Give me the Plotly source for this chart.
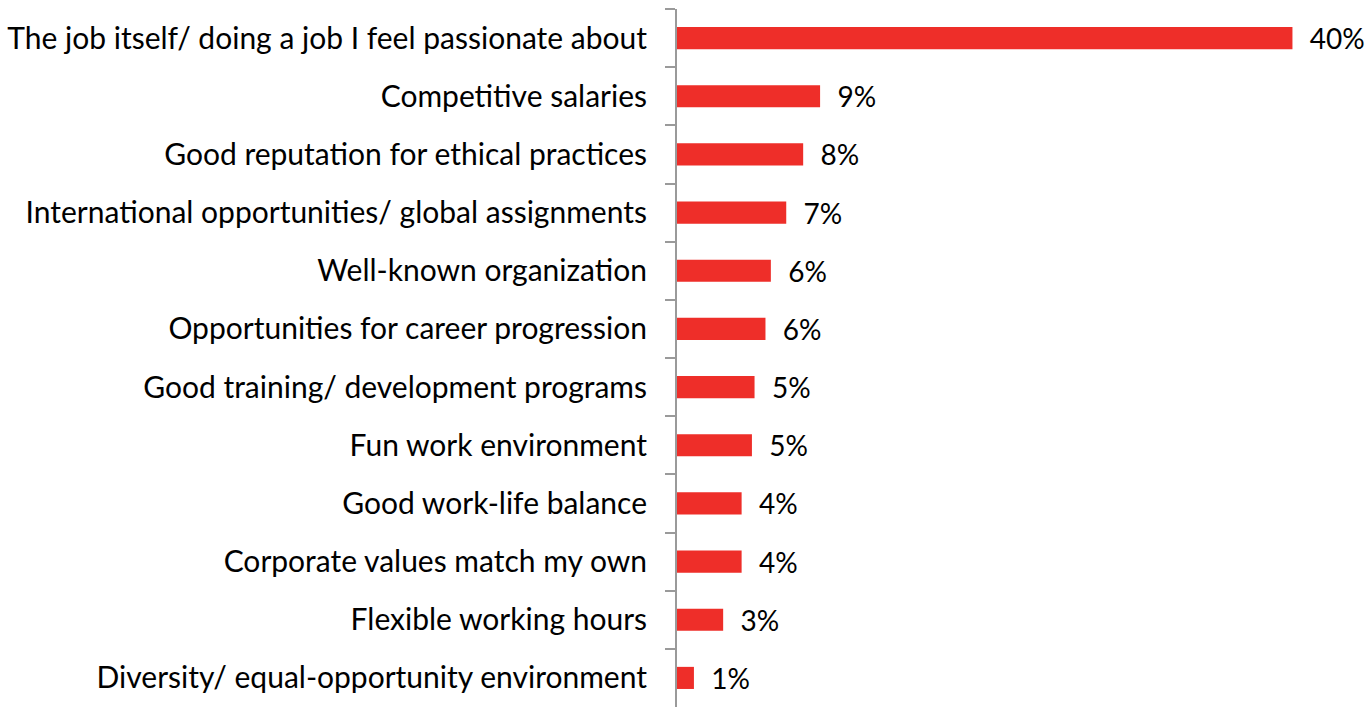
import plotly.graph_objects as go

# Reasons for choosing an employer (share of respondents, %)
reasons = [
    "The job itself/ doing a job I feel passionate about",
    "Competitive salaries",
    "Good reputation for ethical practices",
    "International opportunities/ global assignments",
    "Well-known organization",
    "Opportunities for career progression",
    "Good training/ development programs",
    "Fun work environment",
    "Good work-life balance",
    "Corporate values match my own",
    "Flexible working hours",
    "Diversity/ equal-opportunity environment",
]
shares = [40.0, 9.3, 8.2, 7.1, 6.1, 5.75, 5.04, 4.87, 4.2, 4.2, 3.0, 1.1]

BAR_COLOR = "#EE2E29"
FONT = "Lato, Carlito, 'Liberation Sans', sans-serif"
FONT_SIZE = 30

fig = go.Figure(
    go.Bar(
        x=shares,
        y=reasons,
        orientation="h",
        marker=dict(color=BAR_COLOR, line=dict(width=0)),
        texttemplate="\u00a0\u00a0%{x:.0f}%",
        textposition="outside",
        constraintext="none",
        textfont=dict(family=FONT, size=28, color="#000000"),
        cliponaxis=False,
        width=0.38,
    )
)

fig.update_layout(
    width=1369,
    height=707,
    margin=dict(l=677, r=15, t=9, b=0),
    paper_bgcolor="white",
    plot_bgcolor="white",
    showlegend=False,
    font=dict(family=FONT, size=FONT_SIZE, color="#000000"),
)

fig.update_xaxes(
    range=[0, 44],
    visible=False,
    showgrid=False,
    zeroline=False,
)

fig.update_yaxes(
    autorange="reversed",
    type="category",
    showgrid=False,
    zeroline=False,
    showline=True,
    linecolor="#9A9A9A",
    linewidth=2,
    ticks="outside",
    ticklen=10,
    tickwidth=2,
    tickcolor="#9A9A9A",
    tickson="boundaries",
    ticklabelstandoff=22,
    tickfont=dict(family=FONT, size=FONT_SIZE, color="#000000"),
)

fig.write_html("out.html")
